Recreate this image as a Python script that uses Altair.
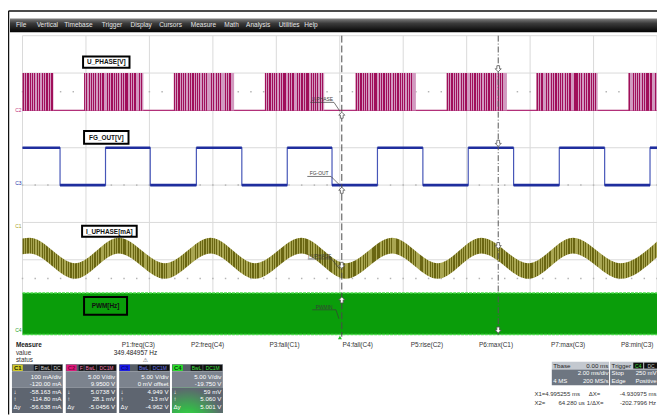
import altair as alt
import pandas as pd

FONT = "Liberation Sans"

# ===================== values =====================
# time in ms (10 div x 2 ms/div), vertical position in screen divisions (0..8)
grid_time = [0, 2, 4, 6, 8, 10, 12, 14, 16, 18, 20]
grid_div = [0, 1, 2, 3, 4, 5, 6, 7, 8]

# C2  U_PHASE : PWM bursts between the low (6 div) and high (7 div) level
uphase_burst_start = [0.0, 1.94, 4.77, 7.64, 10.50, 13.37, 16.20, 19.10]
uphase_burst_end = [0.975, 3.81, 6.67, 9.51, 12.40, 15.27, 18.13, 20.0]
uphase_low = 6.0
uphase_high = 7.0

# C3  FG_OUT : square wave
fg_time = [0.0, 1.183, 2.616, 4.026, 5.48, 6.913, 8.345, 9.756, 11.188,
           12.62, 14.05, 15.48, 16.92, 18.35, 19.78, 20.0]
fg_level = [5, 4, 5, 4, 5, 4, 5, 4, 5, 4, 5, 4, 5, 4, 5, 5]

# C1  I_UPHASE : noisy sinusoid (peaks / troughs)
iu_time = [0.0, 0.227, 1.66, 3.03, 4.49, 5.93, 7.33, 8.79, 10.19, 11.65,
           13.09, 14.46, 15.95, 17.35, 18.85, 20.0]
iu_center = [2.36, 2.38, 1.70, 2.38, 1.70, 2.38, 1.70, 2.38, 1.70, 2.38,
             1.70, 2.38, 1.70, 2.38, 1.70, 2.28]
iu_half = 0.21

# C4  PWM : dense band
pwm_low = 0.0
pwm_high = 1.11

# cursors (ms on screen)
cursor_time = [10.064, 14.995]

# ---- texts ----
menu_items = ["File", "Vertical", "Timebase", "Trigger", "Display", "Cursors",
              "Measure", "Math", "Analysis", "Utilities", "Help"]
trace_titles = ["U_PHASE[V]", "FG_OUT[V]", "I_UPHASE[mA]", "PWM[Hz]"]
trace_tags = ["U-PHASE", "FG-OUT", "I-UPHASE", "PWMIN"]
ground_tags = ["C2", "C3", "C1", "C4"]
param_names = ["P1:freq(C3)", "P2:freq(C4)", "P3:fall(C1)", "P4:fall(C4)",
               "P5:rise(C2)", "P6:max(C1)", "P7:max(C3)", "P8:min(C3)"]
p1_value = "349.484957 Hz"

ch_names = ["C1", "C2", "C3", "C4"]
ch_flags = [["F", "BwL", "DC"], ["F", "BwL", "DC1M"], ["BwL", "DC1M"], ["BwL", "DC1M"]]
ch_scale = ["100 mA/div", "5.00 V/div", "5.00 V/div", "5.00 V/div"]
ch_offset = ["-120.00 mA", "9.9500 V", "0 mV offset", "-19.750 V"]
ch_down = ["-58.163 mA", "5.0738 V", "4.949 V", "59 mV"]
ch_up = ["-114.80 mA", "28.1 mV", "-13 mV", "5.060 V"]
ch_dy = ["-56.638 mA", "-5.0456 V", "-4.962 V", "5.001 V"]

tbase_texts = ["Tbase", "0.00 ms", "2.00 ms/div", "4 MS", "200 MS/s"]
trig_texts = ["Trigger", "C4", "DC", "Stop", "250 mV", "Edge", "Positive"]
cursor_texts = ["X1=", "4.995255 ms", "\u0394X=", "-4.930975 ms",
                "X2=", "64.280 us", "1/\u0394X=", "-202.7996 Hz"]

# ===================== layout (page pixels) =====================
W, H = 657, 409
GRID_L, GRID_R, GRID_T, GRID_B = 22.7, 665.0, 33.5, 336.0
SX = (GRID_R - GRID_L) / 20.0
SY = (GRID_B - GRID_T) / 8.0


def tx(px):
    return (px - GRID_L) / SX


def dy(py):
    return (GRID_B - py) / SY


xs = alt.Scale(domain=[tx(8), tx(665)], nice=False, zero=False)
ys = alt.Scale(domain=[dy(417), dy(8)], nice=False, zero=False)
X = alt.X("x:Q", scale=xs, axis=None)
Y = alt.Y("y:Q", scale=ys, axis=None)
C = alt.Color("c:N", scale=None)


def stripes(n, dark, light, pattern=(0.55, 0.35, 0.6, 0.4, 0.5, 0.3, 0.65, 0.45, 0.7, 0.38)):
    stops = []
    for i in range(n):
        d = pattern[i % len(pattern)]
        a, b, e = i / n, (i + d) / n, (i + 1) / n
        stops += [{"offset": a, "color": dark}, {"offset": b, "color": dark},
                  {"offset": b, "color": light}, {"offset": e, "color": light}]
    return {"gradient": "linear", "x1": 0, "y1": 0, "x2": 1, "y2": 0, "stops": stops}


def rect_px(rows, **kw):
    df = pd.DataFrame([{"x": tx(a), "y": dy(b), "x2": tx(c), "y2": dy(d), "c": col}
                       for a, b, c, d, col in rows])
    enc = dict(x=X, y=Y, x2="x2:Q", y2="y2:Q")
    if "color" not in kw and "fill" not in kw:
        enc["color"] = C
    return alt.Chart(df).mark_rect(**kw).encode(**enc)


def rules_px(rows, **kw):
    df = pd.DataFrame([{"x": tx(a), "y": dy(b), "x2": tx(c), "y2": dy(d)} for a, b, c, d in rows])
    return alt.Chart(df).mark_rule(**kw).encode(x=X, y=Y, x2="x2:Q", y2="y2:Q")


def texts_px(rows, align="left", size=6.5, weight="normal", font=FONT):
    df = pd.DataFrame([{"x": tx(a), "y": dy(b), "label": t, "c": col} for a, b, t, col in rows])
    return alt.Chart(df).mark_text(align=align, baseline="middle", fontSize=size,
                                   fontWeight=weight, font=font).encode(
        x=X, y=Y, text="label:N", color=C)


layers = []

# ---- menu bar & frame ----
menu_grad = {"gradient": "linear", "x1": 0, "y1": 0, "x2": 0, "y2": 1,
             "stops": [{"offset": 0, "color": "#808080"}, {"offset": 0.35, "color": "#3c3c3c"},
                       {"offset": 1, "color": "#030303"}]}
layers.append(rect_px([(10, 16, 665, 30, "")], color=menu_grad))
layers.append(rules_px([(8.5, 8.5, 665, 8.5), (8.5, 8.5, 8.5, 417)], color="#111111", strokeWidth=1.5))
menu_x = [16, 37, 65, 103, 132, 161, 193, 227, 249, 282, 308]
layers.append(texts_px([(mx, 23, m, "#E6E6E6") for mx, m in zip(menu_x, menu_items)], size=6.6))

# ---- graticule ----
gv = pd.DataFrame({"x": grid_time, "y": 0.0, "y2": 8.0})
gh = pd.DataFrame({"y": grid_div, "x": 0.0, "x2": 20.0})
layers.append(alt.Chart(gv).mark_rule(color="#D9D9D9", strokeWidth=1).encode(x=X, y=Y, y2="y2:Q"))
layers.append(alt.Chart(gh).mark_rule(color="#D9D9D9", strokeWidth=1).encode(x=X, x2="x2:Q", y=Y))
minor = pd.DataFrame([{"x": k * 0.4, "y": r} for r in [6.5, 4.0, 1.5] for k in range(51)])
layers.append(alt.Chart(minor).mark_square(size=2.2, color="#B4B4B4", opacity=1).encode(x=X, y=Y))

# ---- C4 PWM ----
layers.append(alt.Chart(pd.DataFrame({"x": [0.0], "x2": [20.0], "y": [pwm_low], "y2": [pwm_high]}))
              .mark_rect(color="#0A9D0A").encode(x=X, x2="x2:Q", y=Y, y2="y2:Q"))
layers.append(alt.Chart(pd.DataFrame({"y": [pwm_low, pwm_high], "x": 0.0, "x2": 20.0}))
              .mark_rule(color="#49DA49", strokeWidth=1.6, strokeDash=[3, 1]).encode(x=X, x2="x2:Q", y=Y))

# ---- C1 I_UPHASE ----
iu = pd.DataFrame({"x": iu_time,
                   "y": [c + iu_half for c in iu_center],
                   "y2": [c - iu_half for c in iu_center]})
layers.append(alt.Chart(iu).mark_area(interpolate="monotone",
                                      color=stripes(265, "#6A6612", "#A9A652"))
              .encode(x=X, y=Y, y2="y2:Q"))

# ---- C2 U_PHASE ----
layers.append(alt.Chart(pd.DataFrame({"x": [0.0], "x2": [20.0], "y": [uphase_low]}))
              .mark_rule(color="#B23079", strokeWidth=1.3).encode(x=X, x2="x2:Q", y=Y))
bursts = pd.DataFrame({"x": uphase_burst_start, "x2": uphase_burst_end,
                       "y": uphase_low, "y2": uphase_high})
bursts["w"] = bursts["x2"] - bursts["x"]
layers.append(alt.Chart(bursts[bursts.w > 1.5]).mark_rect(color=stripes(26, "#A0105A", "#D29AC0"))
              .encode(x=X, x2="x2:Q", y=Y, y2="y2:Q"))
layers.append(alt.Chart(bursts[bursts.w <= 1.5]).mark_rect(color=stripes(13, "#A0105A", "#D29AC0"))
              .encode(x=X, x2="x2:Q", y=Y, y2="y2:Q"))

# ---- C3 FG_OUT ----
fg = pd.DataFrame({"x": fg_time, "y": fg_level})
layers.append(alt.Chart(fg).mark_line(interpolate="step-after", color="#4656B8", strokeWidth=1.2)
              .encode(x=X, y=Y))
fgseg = pd.DataFrame({"x": fg_time[:-1], "x2": fg_time[1:],
                      "y": [l + 0.035 for l in fg_level[:-1]],
                      "y2": [l - 0.035 for l in fg_level[:-1]]})
layers.append(alt.Chart(fgseg).mark_rect(color="#1F2E9E").encode(x=X, x2="x2:Q", y=Y, y2="y2:Q"))

# ---- cursors ----
layers.append(alt.Chart(pd.DataFrame({"x": [cursor_time[0]], "y": [8.0], "y2": [-0.06]}))
              .mark_rule(color="#4A4A4A", strokeWidth=1, strokeDash=[7, 3]).encode(x=X, y=Y, y2="y2:Q"))
layers.append(alt.Chart(pd.DataFrame({"x": [cursor_time[1]], "y": [8.0], "y2": [-0.06]}))
              .mark_rule(color="#555555", strokeWidth=1, strokeDash=[6, 2, 1, 2]).encode(x=X, y=Y, y2="y2:Q"))
down_path = "M-0.45,-1L0.45,-1L0.45,0L1,0L0,1L-1,0L-0.45,0Z"
up_path = "M-0.45,1L0.45,1L0.45,0L1,0L0,-1L-1,0L-0.45,0Z"
down_marks = pd.DataFrame({"x": [cursor_time[1]] * 4 + [cursor_time[0]],
                           "y": [dy(67), dy(142.5), dy(246), dy(331.5), dy(266)]})
up_marks = pd.DataFrame({"x": [cursor_time[0]] * 3, "y": [dy(114), dy(190), dy(301)]})
layers.append(alt.Chart(down_marks).mark_point(shape=down_path, size=38, fill="white", stroke="#555555",
                                               strokeWidth=0.8, fillOpacity=1, opacity=1).encode(x=X, y=Y))
layers.append(alt.Chart(up_marks).mark_point(shape=up_path, size=38, fill="white", stroke="#555555",
                                             strokeWidth=0.8, fillOpacity=1, opacity=1).encode(x=X, y=Y))
layers.append(alt.Chart(pd.DataFrame({"x": [tx(344)], "y": [dy(339)]}))
              .mark_point(shape="triangle-up", size=16, filled=True, color="#22C022", opacity=1).encode(x=X, y=Y))

# trace tags near cursor 1
tag_pos = [(326, 98), (323, 173), (323.5, 256.5), (328, 308)]
tag_end = [(344, 110), (344, 185), (344, 270), (343, 320)]
layers.append(texts_px([(x, y, t, "#3A3A3A") for (x, y), t in zip(tag_pos, trace_tags)],
                       align="center", size=5))
lead = []
for (x, y), (ex, ey) in zip(tag_pos, tag_end):
    lead.append((x - 12, y + 3, x + 12, y + 3))
    lead.append((x + 12, y + 3, ex, ey))
layers.append(rules_px(lead, color="#3A3A3A", strokeWidth=0.7))

# trace title boxes
title_boxes = [(84, 54.5, 131, 66), (85, 130, 130, 143), (83, 226, 138.3, 237), (85, 298, 128.5, 316)]
layers.append(rect_px([b + ("",) for b in title_boxes[:3]], fill="white", stroke="black", strokeWidth=2))
layers.append(rect_px([title_boxes[3] + ("",)], fill="#0A9D0A", stroke="black", strokeWidth=2))
layers.append(texts_px([((a + c) / 2, (b + d) / 2 + 0.3, t, "#111111")
                        for (a, b, c, d), t in zip(title_boxes, trace_titles)],
                       align="center", size=6.5, weight="bold"))

# ground markers
ground_y = [109, 183, 226, 331]
ground_col = ["#C0307A", "#2233AA", "#A8A020", "#20A020"]
layers.append(texts_px([(18.5, y, t, c) for y, t, c in zip(ground_y, ground_tags, ground_col)],
                       align="center", size=5))

# ---- measure table ----
layers.append(texts_px([(16, 346.5, "Measure", "#222222")], size=6.5, weight="bold"))
layers.append(texts_px([(16, 354.3, "value", "#333333"), (16, 361.8, "status", "#333333")], size=6.5))
p_x = [140, 210, 288, 362, 432, 502, 575, 645]
layers.append(texts_px([(x, 346.5, t, "#333333") for x, t in zip(p_x, param_names)],
                       align="center", size=6.5))
layers.append(texts_px([(137, 354.3, p1_value, "#222222")], align="center", size=6.5))
layers.append(texts_px([(147, 362, "\u26a0", "#666666")], align="center", size=6, font="DejaVu Sans"))

# ---- channel boxes ----
box_left = [12.0, 66.5, 120.5, 174.0]
BOX_W = 51.5
HT, HB, UB, LB = 366.0, 373.5, 390.0, 415.5
row_y = [379.0, 386.2, 394.6, 401.8, 409.0]
badge_col = ["#CFC92A", "#E2187C", "#1A1AEA", "#28E028"]
badge_txt = ["#222200", "#7A0A40", "#0A0A80", "#0A400A"]
flag_col = ["#D0D0D0", "#F27AB2", "#6A78F2", "#44E044"]
flag_w = {"F": 5.0, "BwL": 12.0, "DC": 10.0, "DC1M": 19.0}
box_rects, flag_texts, val_texts, sym_texts, badge_texts = [], [], [], [], []
for i, L in enumerate(box_left):
    R = L + BOX_W
    box_rects += [(L, HT, R, HB, "#555C66"), (L, HB, R, UB, "#7C838E"), (L, UB, R, LB, "#5E6570"),
                  (L + 0.6, HT + 0.6, L + 11, HB - 0.6, badge_col[i])]
    badge_texts.append((L + 5.8, (HT + HB) / 2, ch_names[i], badge_txt[i]))
    xe = R - 0.8
    for f in reversed(ch_flags[i]):
        x0 = xe - flag_w[f]
        box_rects.append((x0, HT + 0.8, xe, HB - 0.8, "#101010"))
        flag_texts.append(((x0 + xe) / 2, (HT + HB) / 2, f, flag_col[i]))
        xe = x0 - 0.8
    for ry, v in zip(row_y, [ch_scale[i], ch_offset[i], ch_down[i], ch_up[i], ch_dy[i]]):
        val_texts.append((R - 1.5, ry, v, "#FFFFFF"))
    for ry, s in zip(row_y[2:], ["\u2193", "\u2191", "\u0394y"]):
        sym_texts.append((L + 1.5, ry, s, "#FFFFFF"))
layers.append(rect_px(box_rects))
c4_glow = {"gradient": "radial", "x1": 0.3, "y1": 1.0, "r1": 0, "x2": 0.3, "y2": 1.0, "r2": 0.75,
           "stops": [{"offset": 0, "color": "#3CF53C"}, {"offset": 0.45, "color": "#36B84A"},
                     {"offset": 1, "color": "#5E6570"}]}
layers.append(rect_px([(box_left[3], UB, box_left[3] + BOX_W, LB, "")], color=c4_glow))
layers.append(texts_px(badge_texts, align="center", size=6, weight="bold"))
layers.append(texts_px(flag_texts, align="center", size=5))
layers.append(texts_px(val_texts, align="right", size=6.2))
layers.append(texts_px(sym_texts, align="left", size=6.2))

# ---- timebase / trigger boxes ----
tb_rects = [(558.5, 363.5, 616.5, 371.5, "#C3C8CF"), (558.5, 371.5, 616.5, 387.5, "#6E7681"),
            (617.5, 363.5, 666, 371.5, "#C3C8CF"), (617.5, 371.5, 666, 387.5, "#6E7681"),
            (641, 364.5, 651, 370.5, "#101010"), (652, 364.5, 666, 370.5, "#101010")]
layers.append(rect_px(tb_rects))
layers.append(texts_px([(560, 367.5, tbase_texts[0], "#1E1E1E"), (619, 367.5, trig_texts[0], "#1E1E1E")],
                       size=6.3))
layers.append(texts_px([(615.8, 367.5, tbase_texts[1], "#1E1E1E")], align="right", size=6.3))
layers.append(texts_px([(646, 367.5, trig_texts[1], "#3CE03C"), (659, 367.5, trig_texts[2], "#C8C8C8")],
                       align="center", size=5))
layers.append(texts_px([(615.8, 375.5, tbase_texts[2], "#FFFFFF"), (615.8, 383.4, tbase_texts[4], "#FFFFFF"),
                        (664.5, 375.5, trig_texts[4], "#FFFFFF"), (664.5, 383.4, trig_texts[6], "#FFFFFF")],
                       align="right", size=6.1))
layers.append(texts_px([(560, 383.4, tbase_texts[3], "#FFFFFF"), (619, 375.5, trig_texts[3], "#FFFFFF"),
                        (619, 383.4, trig_texts[5], "#FFFFFF")], size=6.1))

# ---- cursor readouts ----
layers.append(texts_px([(541, 396.7, cursor_texts[0], "#333333"), (596, 396.7, cursor_texts[2], "#333333"),
                        (541, 405.2, cursor_texts[4], "#333333"), (594, 405.2, cursor_texts[6], "#333333")],
                       size=6.1))
layers.append(texts_px([(587, 396.7, cursor_texts[1], "#333333"), (664.5, 396.7, cursor_texts[3], "#333333"),
                        (592, 405.2, cursor_texts[5], "#333333"), (664, 405.2, cursor_texts[7], "#333333")],
                       align="right", size=6.1))

chart = alt.layer(*layers).properties(
    width=W, height=H,
    autosize=alt.AutoSizeParams(type="none"),
    padding=0,
    background="white",
).configure_view(stroke=None)

chart.save("out.html", embed_options={"renderer": "svg", "actions": False})
